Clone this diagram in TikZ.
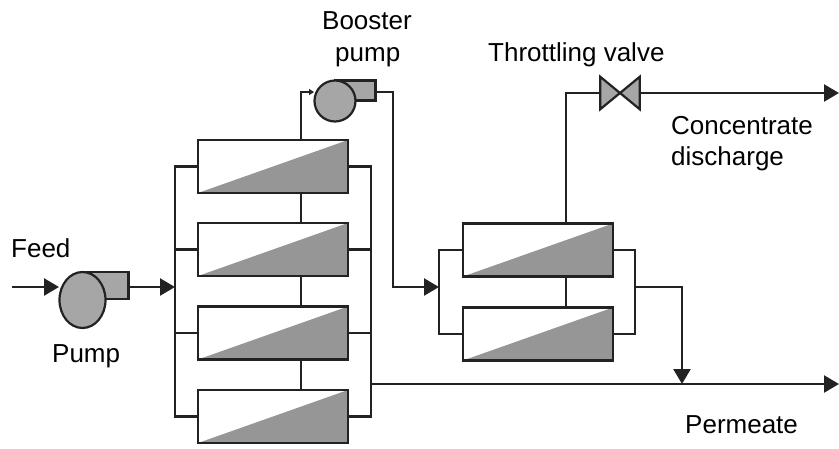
\documentclass[tikz,border=0pt]{standalone}
\usepackage{fontspec}
\setmainfont{Liberation Sans}
\usetikzlibrary{arrows.meta,shapes.geometric}
\definecolor{lin}{HTML}{222222}
\definecolor{pumpgray}{HTML}{A6A6A6}
\definecolor{memgray}{HTML}{969696}
\tikzset{
  pipe/.style={draw=lin,line width=2.4pt},
  flow/.style={pipe,-{Triangle[length=15pt,width=17pt]}},
  module/.style={draw=lin,line width=2.4pt,fill=white,minimum width=150pt,minimum height=53pt,inner sep=0pt,
    path picture={\fill[memgray] (path picture bounding box.south west) -- (path picture bounding box.south east) -- (path picture bounding box.north east) -- cycle;}},
  casing/.style={draw=lin,line width=2.2pt,fill=pumpgray,inner sep=0pt},
  rotor/.style={ellipse,draw=lin,line width=2.2pt,fill=pumpgray,inner sep=0pt},
  bowtie/.style={inner sep=0pt,minimum width=39pt,minimum height=32pt},
  lbl/.style={inner sep=0pt,font=\fontsize{26}{30}\selectfont,anchor=base west},
}
\begin{document}
\begin{tikzpicture}[x=1pt,y=-1pt]
\useasboundingbox (0,0) rectangle (839,448);
% first stage modules
\node[module] (a1) at (273,166.5) {};
\node[module] (a2) at (273,249.5) {};
\node[module] (a3) at (273,333) {};
\node[module] (a4) at (273,416.5) {};
% second stage modules
\node[module] (b1) at (538,250) {};
\node[module] (b2) at (538,334) {};
% junction coordinates
\coordinate (stemA) at (301,0);
\coordinate (stemB) at (566,0);
\coordinate (feedin) at (12,287);
\coordinate (feedtip) at (59,287);
\coordinate (bus1a) at (175,287);
\coordinate (busL1) at (175,166.5);
\coordinate (busL4) at (175,416.5);
\coordinate (busR1) at (371,166.5);
\coordinate (busR4) at (371,416.5);
\coordinate (perm0) at (371,384);
\coordinate (permEnd) at (839,384);
\coordinate (bus2a) at (439,287);
\coordinate (busL21) at (439,250);
\coordinate (busL22) at (439,334);
\coordinate (busR21) at (635,250);
\coordinate (busR22) at (635,334);
\coordinate (busR2m) at (635,287);
\coordinate (merge) at (682,384);
\coordinate (concEnd) at (839,93);
\coordinate (boostIn) at (314,92);
\coordinate (boostOut) at (376,92);
\coordinate (boostDown) at (393,287);
% pump
\node[casing,minimum width=46pt,minimum height=27pt] (pumpcase) at (105.5,285.5) {};
\node[rotor,minimum width=46pt,minimum height=56pt] (pump) at (82.5,300) {};
% booster pump
\node[casing,minimum width=40pt,minimum height=20pt] (boostcase) at (355.5,90.5) {};
\node[rotor,minimum width=41pt,minimum height=41pt] (boost) at (335,101) {};
% throttling valve
\node[bowtie] (valve) at (620,93) {};
\draw[casing] (valve.north west) -- (valve.south east) -- (valve.north east) -- (valve.south west) -- cycle;
% feed and pump discharge
\draw[flow] (feedin) -- (feedtip);
\draw[flow] (pumpcase.east |- bus1a) -- (bus1a);
% first stage manifolds
\draw[pipe] (a1.west) -- (busL1) -- (busL4) -- (a4.west);
\draw[pipe] (a2.west) -- (a2.west -| busL1);
\draw[pipe] (a3.west) -- (a3.west -| busL1);
\draw[pipe] (a1.east) -- (busR1) -- (busR4) -- (a4.east);
\draw[pipe] (a2.east) -- (a2.east -| busR1);
\draw[pipe] (a3.east) -- (a3.east -| busR1);
\draw[pipe] (a1.south -| stemA) -- (a2.north -| stemA);
\draw[pipe] (a2.south -| stemA) -- (a3.north -| stemA);
\draw[pipe] (a3.south -| stemA) -- (a4.north -| stemA);
% to booster pump
\draw[pipe,-{Triangle[length=5pt,width=6pt]}] (a1.north -| stemA) |- (boostIn);
\draw[flow] (boostOut) -| (boostDown) -- (bus2a);
% second stage manifolds
\draw[pipe] (b1.west) -- (busL21) -- (busL22) -- (b2.west);
\draw[pipe] (b1.east) -- (busR21) -- (busR22) -- (b2.east);
\draw[pipe] (b1.south -| stemB) -- (b2.north -| stemB);
% concentrate
\draw[pipe] (b1.north -| stemB) |- (valve.west);
\draw[flow] (valve.east) -- (concEnd);
% permeate
\draw[flow] (perm0) -- (permEnd);
\draw[flow] (busR2m) -| (merge);
% labels
\node[lbl] (tfeed) at (11,257) {Feed};
\node[lbl] (tpump) at (52,362) {Pump};
\node[lbl] (tboost1) at (322,29) {Booster};
\node[lbl] (tboost2) at (335,61) {pump};
\node[lbl] (tvalve) at (488,61) {Throttling valve};
\node[lbl] (tconc1) at (671,134) {Concentrate};
\node[lbl] (tconc2) at (671,165) {discharge};
\node[lbl] (tperm) at (685,433) {Permeate};
\end{tikzpicture}
\end{document}
